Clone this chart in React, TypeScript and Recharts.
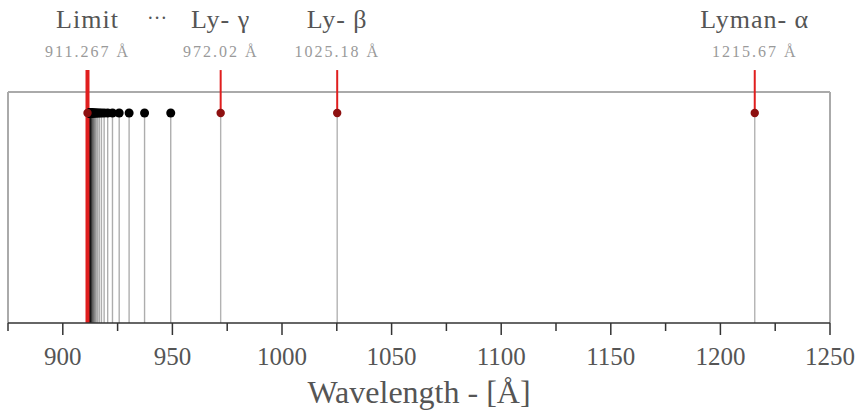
import { ComposedChart, XAxis, YAxis, Scatter, ReferenceLine, ReferenceDot } from 'recharts';

// Lyman series lines (n >= 5) converging to the series limit
const seriesWaves = [
  949.24, 937.3, 930.25, 925.73, 922.66, 920.47, 918.86, 917.64, 916.69, 915.94,
  915.33, 914.84, 914.43, 914.09, 913.8, 913.55, 913.34, 913.15, 912.99, 912.85,
  912.73, 912.62, 912.52, 912.43, 912.35, 912.28, 912.22, 912.16, 912.11, 912.06,
];

// labelled lines
const markerNames = ['Limit', 'Ly- γ', 'Ly- β', 'Lyman- α'];
const markerWaves = [911.267, 972.02, 1025.18, 1215.67];
const markerTexts = ['911.267 Å', '972.02 Å', '1025.18 Å', '1215.67 Å'];

const axisTicks = [875, 900, 925, 950, 975, 1000, 1025, 1050, 1075, 1100, 1125, 1150, 1175, 1200, 1225, 1250];
const ellipsisWave = 943;

const DOT_LEVEL = 0.909;
const MARKER_TOP = 1.095;

const FONT = '"Liberation Serif", "DejaVu Serif", serif';

const seriesDots = seriesWaves.map(w => ({ x: w, y: DOT_LEVEL }));
const markerDots = markerWaves.map(w => ({ x: w, y: DOT_LEVEL }));

const WaveTick = (props: any) => {
  const { x, y, payload } = props;
  const major = payload.value % 50 === 0;
  return (
    <g>
      <line x1={x} x2={x} y1={y} y2={y + (major ? 12 : 8)} stroke="#333" strokeWidth={1.5} />
      {major && (
        <text x={x} y={y + 42} textAnchor="middle" fill="#555" fontSize={25} style={{ fontFamily: FONT }}>
          {payload.value}
        </text>
      )}
    </g>
  );
};

const markerLabel = (name: string, value: string) => (props: any) => {
  const { x, y } = props.viewBox;
  return (
    <g>
      <text x={x} y={y - 42} textAnchor="middle" fill="#555" fontSize={26} letterSpacing={1} style={{ fontFamily: FONT }}>
        {name}
      </text>
      <text x={x} y={y - 13} textAnchor="middle" fill="#9a9a9a" fontSize={16} letterSpacing={2} style={{ fontFamily: FONT }}>
        {value}
      </text>
    </g>
  );
};

export default function App() {
  return (
    <div style={{ position: 'absolute', left: 0, top: 0, background: '#fff', fontFamily: FONT }}>
      <ComposedChart width={865} height={415} margin={{ top: 92, right: 35, left: 8, bottom: 0 }}>
        <XAxis
          type="number"
          dataKey="x"
          domain={[875, 1250]}
          ticks={axisTicks}
          interval={0}
          height={92}
          tickSize={0}
          tickMargin={0}
          tickLine={false}
          tick={<WaveTick />}
          axisLine={{ stroke: '#333', strokeWidth: 1.5 }}
          label={{
            value: 'Wavelength - [Å]',
            position: 'insideBottom',
            offset: 12,
            fill: '#555',
            fontSize: 32,
            style: { fontFamily: FONT },
          }}
        />
        <YAxis type="number" dataKey="y" domain={[0, 1]} hide />

        {/* frame */}
        <ReferenceLine x={875} stroke="#aaa" strokeWidth={2} ifOverflow="visible" />
        <ReferenceLine x={1250} stroke="#aaa" strokeWidth={2} ifOverflow="visible" />
        <ReferenceLine y={1} stroke="#aaa" strokeWidth={2} ifOverflow="visible" />

        {/* series lines */}
        {seriesWaves.map(w => (
          <ReferenceLine
            key={'s' + w}
            segment={[{ x: w, y: 0 }, { x: w, y: DOT_LEVEL }]}
            stroke="#000"
            strokeOpacity={0.32}
            strokeWidth={1.4}
            ifOverflow="visible"
          />
        ))}
        {markerWaves.slice(1).map(w => (
          <ReferenceLine
            key={'g' + w}
            segment={[{ x: w, y: 0 }, { x: w, y: DOT_LEVEL }]}
            stroke="#000"
            strokeOpacity={0.3}
            strokeWidth={1.4}
            ifOverflow="visible"
          />
        ))}

        {/* red markers with labels */}
        {markerWaves.map((w, i) => (
          <ReferenceLine
            key={'r' + w}
            segment={[{ x: w, y: i === 0 ? 0 : DOT_LEVEL }, { x: w, y: MARKER_TOP }]}
            stroke="#e01e1e"
            strokeWidth={i === 0 ? 4 : 2}
            ifOverflow="visible"
            label={markerLabel(markerNames[i], markerTexts[i])}
          />
        ))}

        <ReferenceDot
          x={ellipsisWave}
          y={MARKER_TOP}
          ifOverflow="visible"
          shape={(p: any) => (
            <text x={p.cx} y={p.cy - 45} textAnchor="middle" fill="#555" fontSize={20} style={{ fontFamily: FONT }}>
              ···
            </text>
          )}
        />

        <Scatter
          data={seriesDots}
          isAnimationActive={false}
          shape={(p: any) => <circle cx={p.cx} cy={p.cy} r={4.5} fill="#000" />}
        />
        <Scatter
          data={markerDots}
          isAnimationActive={false}
          shape={(p: any) => <circle cx={p.cx} cy={p.cy} r={4.2} fill="#8e1010" />}
        />
      </ComposedChart>
    </div>
  );
}
